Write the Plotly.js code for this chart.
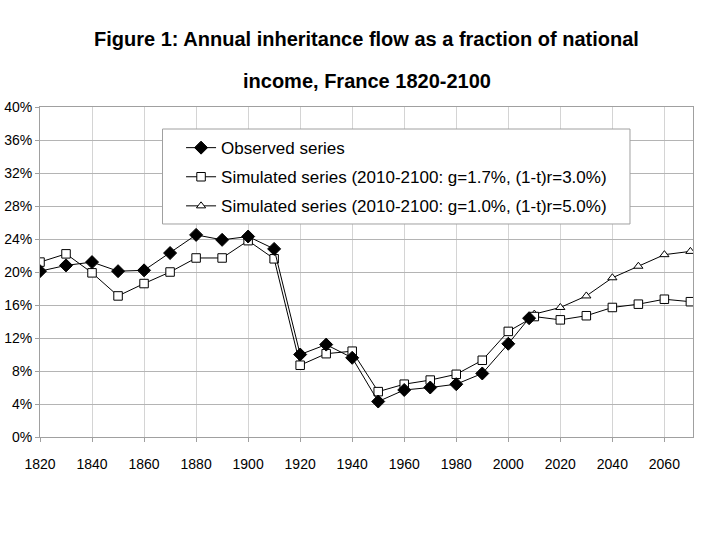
<!DOCTYPE html>
<html>
<head>
<meta charset="utf-8">
<script src="https://cdn.plot.ly/plotly-3.0.1.min.js"></script>
<style>html,body{margin:0;padding:0;background:#fff;}#chart{width:720px;height:540px;}</style>
</head>
<body>
<div id="chart"></div>
<script>
const titleLines = ["Figure 1: Annual inheritance flow as a fraction of national", "income, France 1820-2100"];
const seriesNames = [
  "Observed series",
  "Simulated series (2010-2100: g=1.7%, (1-t)r=3.0%)",
  "Simulated series (2010-2100: g=1.0%, (1-t)r=5.0%)"
];
const observedYears = [1820,1830,1840,1850,1860,1870,1880,1890,1900,1910,1920,1930,1940,1950,1960,1970,1980,1990,2000,2008];
const observedValues = [20.1,20.8,21.2,20.1,20.2,22.3,24.5,23.9,24.3,22.8,10.0,11.2,9.6,4.3,5.7,6.0,6.4,7.7,11.3,14.4];
const sim1Years = [1820,1830,1840,1850,1860,1870,1880,1890,1900,1910,1920,1930,1940,1950,1960,1970,1980,1990,2000,2010,2020,2030,2040,2050,2060,2070];
const sim1Values = [21.2,22.2,19.9,17.1,18.6,20.0,21.7,21.7,23.8,21.6,8.7,10.1,10.4,5.5,6.4,6.9,7.6,9.3,12.8,14.6,14.2,14.7,15.7,16.1,16.7,16.4];
const sim2Years = [2010,2020,2030,2040,2050,2060,2070];
const sim2Values = [14.9,15.7,17.1,19.3,20.7,22.1,22.5];
const yTickVals = [0,4,8,12,16,20,24,28,32,36,40];
const xTickVals = [1820,1840,1860,1880,1900,1920,1940,1960,1980,2000,2020,2040,2060];

const FONT = '"Liberation Sans Narrow","Arial Narrow","Liberation Sans",Arial,sans-serif';

const traces = [
  {x: sim2Years, y: sim2Values, name: seriesNames[2], legendgroup: 'c', legendrank: 3, type: 'scatter', mode: 'lines+markers',
   line: {color: '#000', width: 1}, marker: {symbol: 'triangle-up', size: 8, color: '#fff', line: {color: '#000', width: 1}}},
  {x: sim1Years, y: sim1Values, name: seriesNames[1], legendgroup: 'b', legendrank: 2, type: 'scatter', mode: 'lines+markers',
   line: {color: '#000', width: 1}, marker: {symbol: 'square', size: 8.5, color: '#fff', line: {color: '#000', width: 1}}},
  {x: observedYears, y: observedValues, name: seriesNames[0], legendgroup: 'a', legendrank: 1, type: 'scatter', mode: 'lines+markers',
   line: {color: '#000', width: 1}, marker: {symbol: 'diamond', size: 10, color: '#000', line: {color: '#000', width: 1}}}
];

const layout = {
  width: 720, height: 540,
  paper_bgcolor: '#fff', plot_bgcolor: '#fff',
  margin: {l: 40, r: 27, t: 107, b: 103},
  title: {text: titleLines[0], xref: 'paper', x: 0.5, xanchor: 'center', yref: 'container', y: 0.928, yanchor: 'middle',
          font: {family: FONT, size: 20, color: '#000', weight: 'bold'}},
  annotations: [
    {text: titleLines[1], xref: 'paper', yref: 'paper', x: 0.5, y: 1.0788, xanchor: 'center', yanchor: 'middle',
     showarrow: false, font: {family: FONT, size: 20, color: '#000', weight: 'bold'}}
  ],
  shapes: [
    {type: 'rect', xref: 'paper', yref: 'paper', x0: 0.1876, x1: 0.9035, y0: 0.6455, y1: 0.9333,
     line: {color: '#a0a0a0', width: 1}, fillcolor: '#fff', layer: 'above'}
  ],
  showlegend: true,
  legend: {x: 0.216, y: 0.930, xanchor: 'left', yanchor: 'top', traceorder: 'grouped', tracegroupgap: 4,
           bgcolor: 'rgba(0,0,0,0)', borderwidth: 0,
           font: {family: FONT, size: 17, color: '#000'}},
  xaxis: {range: [1820, 2071], tickvals: xTickVals, ticktext: xTickVals.map(String),
          showgrid: true, gridcolor: '#d4d4d4', gridwidth: 1,
          showline: true, linecolor: '#a0a0a0', mirror: true, zeroline: false,
          ticks: 'outside', ticklen: 4, tickcolor: '#a0a0a0', ticklabelstandoff: 10,
          tickfont: {family: FONT, size: 14, color: '#000'}, automargin: false},
  yaxis: {range: [0, 40], tickvals: yTickVals, ticktext: yTickVals.map(v => v + '%'),
          showgrid: true, gridcolor: '#b4b4b4', gridwidth: 1,
          showline: true, linecolor: '#a0a0a0', mirror: true, zeroline: false,
          ticks: 'outside', ticklen: 4, tickcolor: '#a0a0a0',
          tickfont: {family: FONT, size: 14, color: '#000'}, automargin: false}
};

Plotly.newPlot('chart', traces, layout, {displayModeBar: false, staticPlot: true});
</script>
</body>
</html>
